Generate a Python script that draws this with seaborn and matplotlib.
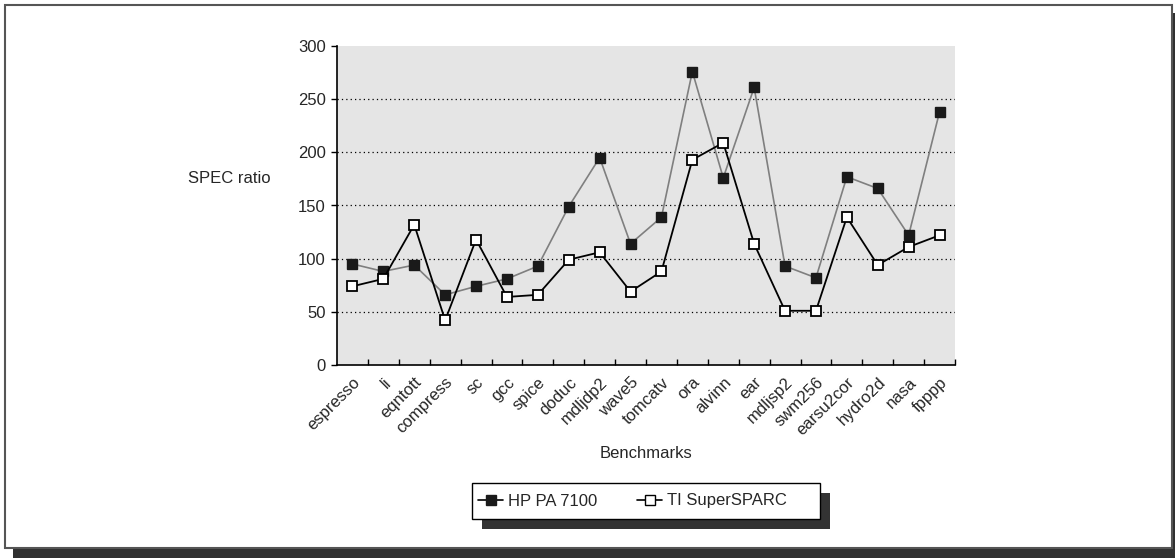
import matplotlib
matplotlib.use("Agg")
import matplotlib.pyplot as plt
from matplotlib.patches import Rectangle
from matplotlib.lines import Line2D
import seaborn as sns
import pandas as pd
import numpy as np

benchmarks = ["espresso", "li", "eqntott", "compress", "sc", "gcc", "spice", "doduc",
              "mdljdp2", "wave5", "tomcatv", "ora", "alvinn", "ear", "mdljsp2", "swm256",
              "earsu2cor", "hydro2d", "nasa", "fpppp"]
hp_pa_7100 = [95, 88, 94, 66, 74, 81, 93, 149, 195, 114, 139, 276, 176, 261, 93, 82, 177, 166, 122, 238]
ti_supersparc = [74, 81, 132, 42, 118, 64, 66, 99, 106, 69, 88, 193, 209, 114, 51, 51, 139, 94, 111, 122]
y_ticks = [0, 50, 100, 150, 200, 250, 300]

sns.set_style("white")
plt.rcParams['font.family'] = ['Liberation Sans', 'DejaVu Sans']
plt.rcParams['font.size'] = 12
plt.rcParams['xtick.direction'] = 'in'
plt.rcParams['xtick.bottom'] = True
plt.rcParams['xtick.minor.bottom'] = True
plt.rcParams['ytick.direction'] = 'out'
plt.rcParams['ytick.left'] = True

W, H = 1175, 558
fig = plt.figure(figsize=(W / 100, H / 100), dpi=100)
fig.patch.set_facecolor("white")

def fx(px):
    return px / W

def fy(py):
    return 1 - py / H

# outer frame with shadow
fig.patches.append(Rectangle((fx(13), fy(558)), fx(1175) - fx(13), fy(13) - fy(558),
                             transform=fig.transFigure, facecolor="#303030", edgecolor="none", zorder=0))
fig.patches.append(Rectangle((fx(5), fy(548)), fx(1172) - fx(5), fy(5) - fy(548),
                             transform=fig.transFigure, facecolor="white", edgecolor="#555555",
                             linewidth=1.5, zorder=0.5))

ax = fig.add_axes([fx(337), fy(365), fx(955) - fx(337), fy(46) - fy(365)])
ax.set_facecolor("#e5e5e5")
ax.set_zorder(2)

df = pd.DataFrame({"idx": np.arange(len(benchmarks)), "benchmark": benchmarks,
                   "hp": hp_pa_7100, "ti": ti_supersparc})

sns.lineplot(data=df, x="idx", y="hp", ax=ax, color="#7f7f7f", linewidth=1.2,
             marker="s", markersize=7.5, markerfacecolor="#1a1a1a", markeredgecolor="#1a1a1a",
             markeredgewidth=1, zorder=3)
sns.lineplot(data=df, x="idx", y="ti", ax=ax, color="black", linewidth=1.3,
             marker="s", markersize=7.5, markerfacecolor="white", markeredgecolor="black",
             markeredgewidth=1.3, zorder=4)

ax.set_xlim(-0.5, len(benchmarks) - 0.5)
ax.set_ylim(0, 300)
ax.set_yticks(y_ticks)
ax.set_yticklabels([str(v) for v in y_ticks], fontsize=12)
ax.set_xticks(np.arange(len(benchmarks)))
ax.set_xticklabels(benchmarks, rotation=45, ha="right", va="top", rotation_mode="anchor", fontsize=12)
ax.set_xticks(np.arange(len(benchmarks)) + 0.5, minor=True)
ax.tick_params(axis="x", which="major", length=0, pad=7, bottom=True)
ax.tick_params(axis="x", which="minor", direction="in", length=4, width=1, color="black", bottom=True)
ax.tick_params(axis="y", which="major", direction="out", length=4, width=1, color="black", pad=4, left=True)

for v in y_ticks[1:-1]:
    ax.axhline(v, color="black", linestyle=(0, (1, 2.5)), linewidth=0.9, zorder=1)

for s in ["top", "right"]:
    ax.spines[s].set_visible(False)
for s in ["left", "bottom"]:
    ax.spines[s].set_color("black")
    ax.spines[s].set_linewidth(1.2)

ax.set_xlabel("Benchmarks", fontsize=12)
ax.xaxis.set_label_coords(0.5, -0.255)
ax.set_ylabel("SPEC ratio", fontsize=12, rotation=0, ha="center", va="center")
ax.yaxis.set_label_coords(-0.175, 0.586)

# legend box with shadow
fig.patches.append(Rectangle((fx(482), fy(529)), fx(830) - fx(482), fy(493) - fy(529),
                             transform=fig.transFigure, facecolor="#333333", edgecolor="none", zorder=1))
fig.patches.append(Rectangle((fx(472), fy(519)), fx(820) - fx(472), fy(483) - fy(519),
                             transform=fig.transFigure, facecolor="white", edgecolor="black",
                             linewidth=1, zorder=1.5))
handles = [
    Line2D([0], [0], color="black", linewidth=1.2, marker="s", markersize=7,
           markerfacecolor="#1a1a1a", markeredgecolor="#1a1a1a"),
    Line2D([0], [0], color="black", linewidth=1.2, marker="s", markersize=7,
           markerfacecolor="white", markeredgecolor="black"),
]
leg = fig.legend(handles, ["HP PA 7100", "TI SuperSPARC"], ncol=2, frameon=False,
                 loc="center left", bbox_to_anchor=(fx(478), fy(501)), borderpad=0,
                 borderaxespad=0, handlelength=1.5, handletextpad=0.3, columnspacing=2.4,
                 fontsize=12)
leg.set_zorder(3)

fig.savefig("out.png", dpi=100)
